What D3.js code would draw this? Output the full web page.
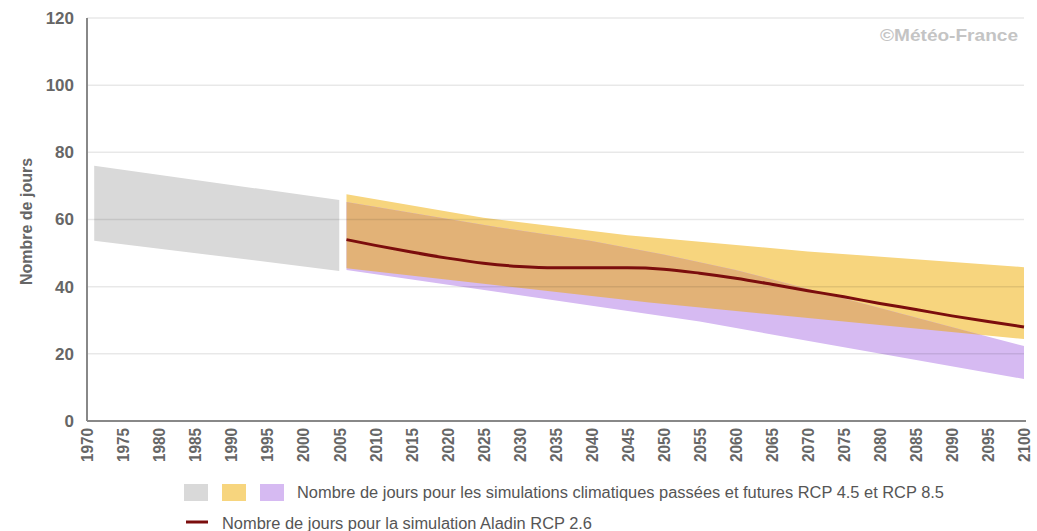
<!DOCTYPE html>
<html>
<head>
<meta charset="utf-8">
<script src="https://cdn.jsdelivr.net/npm/d3@7"></script>
<style>
  body { margin: 0; background: #fff; }
  svg { display: block; }
  .tick text { font-family: "Liberation Sans", Arial, sans-serif; font-weight: bold; fill: #666; }
</style>
</head>
<body>
<div id="chart"></div>
<script>
// passé (simulations historiques)
const histYears = [1971, 2005];
const histLow = [53.7, 44.7];
const histHigh = [76, 65.8];

// RCP 4.5 (jaune)
const rcp45Years = [2006, 2025, 2045, 2070, 2100];
const rcp45High = [67.5, 60.5, 55.3, 50.5, 45.8];
const rcp45LowYears = [2006, 2048, 2100];
const rcp45Low = [45.5, 35.3, 24.4];

// RCP 8.5 (violet)
const rcp85Years = [2006, 2027, 2040, 2050, 2060, 2094, 2100];
const rcp85High = [65.2, 57.7, 53.6, 49.6, 45, 25.7, 22.3];
const rcp85LowYears = [2006, 2055, 2100];
const rcp85Low = [45, 29.6, 12.5];

// Aladin RCP 2.6
const aladinYears = [2006, 2010, 2015, 2020, 2025, 2030, 2035, 2040, 2045, 2050, 2055, 2060, 2065, 2070, 2075, 2080, 2085, 2090, 2095, 2100];
const aladinValues = [54, 52.3, 50.3, 48.5, 47, 46, 45.6, 45.6, 45.6, 45.2, 44, 42.5, 40.7, 38.8, 37, 35, 33.2, 31.3, 29.6, 28];

const yTicks = [0, 20, 40, 60, 80, 100, 120];
const xTicks = d3.range(1970, 2101, 5);

const legendBandText = "Nombre de jours pour les simulations climatiques passées et futures RCP 4.5 et RCP 8.5";
const legendLineText = "Nombre de jours pour la simulation Aladin RCP 2.6";

const width = 1037, height = 531;
const margin = {top: 18, right: 13, bottom: 110, left: 87};

const svg = d3.select('#chart').append('svg')
    .attr('width', width)
    .attr('height', height);

const xScale = d3.scaleLinear().domain([1970, 2100]).range([margin.left, width - margin.right]);
const yScale = d3.scaleLinear().domain([0, 120]).range([height - margin.bottom, margin.top]);

// polygon from an upper and a lower edge (each with its own years)
function band(upYears, up, lowYears, low) {
    const pts = upYears.map((y, i) => [xScale(y), yScale(up[i])]);
    for (let i = lowYears.length - 1; i >= 0; i--) pts.push([xScale(lowYears[i]), yScale(low[i])]);
    return 'M' + pts.map(p => p.join(',')).join('L') + 'Z';
}

const grayPath = band(histYears, histHigh, histYears, histLow);
const yellowPath = band(rcp45Years, rcp45High, rcp45LowYears, rcp45Low);
const purplePath = band(rcp85Years, rcp85High, rcp85LowYears, rcp85Low);

svg.append('defs').append('clipPath').attr('id', 'clip45')
    .append('path').attr('d', yellowPath);

svg.append('path').attr('d', grayPath).attr('fill', '#d9d9d9');
svg.append('path').attr('d', yellowPath).attr('fill', '#f7d57e');
svg.append('path').attr('d', purplePath).attr('fill', '#d6baf2');
svg.append('path').attr('d', purplePath).attr('fill', '#e2b277').attr('clip-path', 'url(#clip45)');

// grid lines (on top, translucent)
svg.append('g').selectAll('line')
    .data(yTicks.filter(d => d > 0))
    .join('line')
    .attr('x1', margin.left).attr('x2', width - margin.right)
    .attr('y1', d => yScale(d)).attr('y2', d => yScale(d))
    .attr('stroke', 'rgba(0,0,0,0.09)')
    .attr('stroke-width', 1.5);

// Aladin line
const line = d3.line()
    .x((d, i) => xScale(aladinYears[i]))
    .y(d => yScale(d))
    .curve(d3.curveMonotoneX);
svg.append('path')
    .attr('d', line(aladinValues))
    .attr('fill', 'none')
    .attr('stroke', '#7b0d0d')
    .attr('stroke-width', 3);

// axes
const yAxis = d3.axisLeft(yScale).tickValues(yTicks).tickSize(0).tickPadding(13);
const yAxisG = svg.append('g').attr('transform', `translate(${margin.left},0)`).call(yAxis);
yAxisG.select('.domain').remove();
yAxisG.selectAll('text').style('font-size', '17px');

const xAxis = d3.axisBottom(xScale).tickValues(xTicks).tickFormat(d3.format('d')).tickSize(0);
const xAxisG = svg.append('g').attr('transform', `translate(0,${yScale(0)})`).call(xAxis);
xAxisG.select('.domain').remove();
xAxisG.selectAll('text')
    .style('font-size', '16px')
    .attr('transform', 'rotate(-90)')
    .attr('text-anchor', 'end')
    .attr('textLength', 34)
    .attr('lengthAdjust', 'spacingAndGlyphs')
    .attr('x', -7)
    .attr('y', 0)
    .attr('dy', '0.36em');

svg.append('line')
    .attr('x1', margin.left).attr('x2', margin.left)
    .attr('y1', margin.top).attr('y2', yScale(0))
    .attr('stroke', '#888').attr('stroke-width', 2);
svg.append('line')
    .attr('x1', margin.left).attr('x2', width - margin.right + 2)
    .attr('y1', yScale(0)).attr('y2', yScale(0))
    .attr('stroke', '#888').attr('stroke-width', 2);

// y title
svg.append('text')
    .attr('transform', `translate(32,${(yScale(0) + margin.top) / 2 + 2}) rotate(-90)`)
    .attr('text-anchor', 'middle')
    .style('font-family', '"Liberation Sans", Arial, sans-serif')
    .style('font-weight', 'bold')
    .style('font-size', '16px')
    .attr('fill', '#666')
    .text('Nombre de jours');

// copyright
svg.append('text')
    .attr('x', 1018).attr('y', 41)
    .attr('text-anchor', 'end')
    .attr('textLength', 138)
    .attr('lengthAdjust', 'spacingAndGlyphs')
    .style('font-family', '"Liberation Sans", Arial, sans-serif')
    .style('font-weight', 'bold')
    .style('font-size', '17px')
    .attr('fill', '#c4c4c4')
    .text('©Météo-France');

// legend
const legend = svg.append('g');
const swatches = ['#d9d9d9', '#f7d57e', '#d6baf2'];
legend.selectAll('rect')
    .data(swatches)
    .join('rect')
    .attr('x', (d, i) => 184 + i * 38)
    .attr('y', 484)
    .attr('width', 24)
    .attr('height', 17)
    .attr('fill', d => d);
legend.append('text')
    .attr('x', 297).attr('y', 498)
    .attr('textLength', 647)
    .attr('lengthAdjust', 'spacingAndGlyphs')
    .style('font-family', '"Liberation Sans", Arial, sans-serif')
    .style('font-size', '16px')
    .attr('fill', '#555')
    .text(legendBandText);
legend.append('line')
    .attr('x1', 186).attr('x2', 208)
    .attr('y1', 522).attr('y2', 522)
    .attr('stroke', '#7b0d0d').attr('stroke-width', 3);
legend.append('text')
    .attr('x', 222).attr('y', 529)
    .attr('textLength', 370)
    .attr('lengthAdjust', 'spacingAndGlyphs')
    .style('font-family', '"Liberation Sans", Arial, sans-serif')
    .style('font-size', '16px')
    .attr('fill', '#555')
    .text(legendLineText);
</script>
</body>
</html>
